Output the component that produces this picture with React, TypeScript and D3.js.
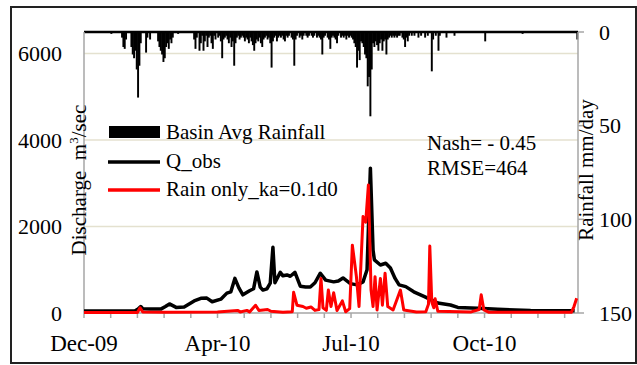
import React from 'react';
import * as d3 from 'd3';

// day offsets from the first date
const startDate = new Date(Date.UTC(2009, 11, 25));
const dayCount = 370;
const xTickDays = d3.range(0, 361, 20);
const xLabelDays = [0, 100, 200, 300];
const qTicks = [0, 2000, 4000, 6000];
const rainTicks = [0, 50, 100, 150];

// Basin average rainfall, mm/day: [day, mm]
const rainfall: [number, number][] = [
  [20, 1], [28, 3], [29, 8], [30, 9], [31, 4], [35, 8], [36, 12], [37, 14], [38, 10], [39, 20],
  [40, 35], [41, 18], [42, 6], [46, 11], [47, 3], [49, 4], [55, 5], [56, 8], [57, 10], [58, 12],
  [59, 16], [60, 14], [61, 8], [62, 6], [63, 9], [64, 4], [65, 6], [66, 3], [70, 1],
  [82, 4], [83, 9], [84, 3], [86, 10], [87, 6], [88, 2], [89, 10], [90, 5], [91, 2], [92, 8],
  [93, 3], [94, 2], [95, 6], [96, 9], [97, 2], [98, 4], [100, 3], [101, 2], [102, 5], [103, 14],
  [104, 4], [105, 3], [106, 2], [107, 4], [108, 6], [109, 3], [110, 8], [111, 5], [112, 18], [113, 6],
  [114, 3], [115, 2], [116, 4], [117, 3], [118, 2], [119, 3], [120, 5], [121, 3], [122, 4], [123, 6],
  [124, 3], [125, 5], [126, 7], [127, 10], [128, 6], [129, 4], [130, 5], [131, 3], [132, 6], [133, 8],
  [134, 4], [135, 3], [136, 2], [137, 4], [138, 3], [139, 6], [140, 19], [141, 5], [142, 3], [143, 2],
  [144, 5], [145, 3], [146, 2], [147, 3], [148, 2], [149, 4], [150, 5], [151, 2], [152, 3], [153, 2],
  [155, 3], [156, 4], [157, 18], [158, 4], [159, 2], [161, 3], [162, 2], [163, 4], [164, 2], [166, 2],
  [167, 3], [168, 2], [170, 2], [171, 3], [172, 2], [174, 3], [175, 2], [176, 3], [177, 4], [178, 12],
  [179, 3], [180, 2], [182, 3], [183, 4], [184, 9], [185, 3], [186, 2], [187, 3], [188, 4], [189, 6],
  [190, 2], [192, 3], [193, 2], [194, 3], [195, 2], [196, 4], [197, 2], [198, 3], [199, 2], [200, 3],
  [201, 4], [202, 6], [203, 8], [204, 19], [205, 10], [206, 15], [207, 5], [208, 6], [209, 8], [210, 12],
  [211, 14], [212, 29], [213, 24], [214, 45], [215, 20], [216, 6], [217, 8], [218, 5], [219, 7], [220, 10],
  [221, 6], [222, 4], [223, 10], [224, 5], [225, 4], [226, 12], [227, 4], [228, 3], [229, 2], [230, 3],
  [231, 2], [232, 3], [233, 2], [234, 3], [235, 2], [236, 2], [238, 3], [239, 4], [240, 8], [241, 3],
  [242, 5], [243, 2], [245, 2], [247, 2], [250, 3], [252, 2], [255, 3], [257, 2], [260, 21], [261, 4],
  [263, 2], [265, 10], [266, 2], [271, 3], [277, 2], [300, 5], [328, 1], [369, 4],
];

// Observed discharge, m3/sec: [day, Q]
const qObs: [number, number][] = [
  [0, 45], [12, 45], [38, 45], [40.5, 90], [42.5, 150], [44, 100], [49.5, 90], [57.5, 90],
  [61, 150], [64, 210], [69, 130], [75, 140], [82.5, 280], [87.5, 340], [92, 345], [96, 260],
  [102.5, 320], [107, 460], [110, 490], [113, 800], [116, 580], [119, 420], [124, 515], [127, 560],
  [129.5, 950], [132, 600], [134, 530], [137, 560], [139.5, 690], [141.5, 1520], [143, 700],
  [147, 940], [149, 860], [152, 880], [154.5, 850], [158, 940], [162, 620], [166, 600], [169.5, 600],
  [173, 700], [177, 920], [181, 760], [187, 720], [190.5, 740], [194, 810], [199.5, 680], [204.5, 650],
  [209, 720], [212, 1000], [214.5, 3350], [216.5, 1450], [217.5, 1230], [222, 1110], [226, 1150],
  [229.5, 1040], [233, 800], [236, 650], [241, 610], [247, 490], [255, 380], [265, 230], [274.5, 185],
  [280, 130], [295, 110], [310, 85], [334.5, 55], [367.5, 50],
];

// Simulated discharge, rain only ka=0.1d0: [day, Q]
const qRainOnly: [number, number][] = [
  [0, 10], [40, 10], [42, 120], [44, 25], [60, 20], [100, 25], [115, 60], [117, 25], [122, 60],
  [124, 25], [128.5, 180], [131, 60], [137.5, 80], [140, 40], [149, 15], [156, 30], [157, 480],
  [159.5, 180], [164, 150], [166.5, 110], [170, 140], [173, 60], [176, 80], [177.5, 800], [179, 120],
  [181.5, 60], [183, 530], [185, 150], [187, 470], [189.5, 60], [193.5, 280], [196, 30], [199, 100],
  [201, 1570], [204, 850], [206, 150], [209, 2230], [211, 2100], [213, 2960], [215, 530], [216.5, 150],
  [218, 840], [219.5, 70], [222, 800], [223.5, 180], [225.5, 920], [227.5, 150], [231.5, 70],
  [237, 530], [239.5, 70], [249, 25], [256, 30], [258, 200], [259, 1550], [260.5, 250], [262, 120],
  [263, 330], [265, 40], [290, 25], [296, 80], [297.5, 420], [299.5, 70], [303, 20], [365, 15],
  [367, 150], [369, 340],
];

const W = 637;
const H = 365;
const left = 84;
const right = 578;
const top = 32;
const bottom = 313;
const font = '"Liberation Serif", "Times New Roman", serif';

const day = (d: number) => new Date(startDate.getTime() + d * 86400000);

export default function App() {
  const x = d3.scaleUtc().domain([startDate, day(dayCount)]).range([left, right]);
  const yQ = d3.scaleLinear().domain([0, 6500]).range([bottom, top]);
  const yR = d3.scaleLinear().domain([0, 150]).range([top, bottom]);
  const fmt = d3.utcFormat('%b-%y');

  const line = d3
    .line<[number, number]>()
    .x((d) => x(day(d[0])))
    .y((d) => yQ(d[1]));

  const barW = x(day(1)) - x(day(0));

  return (
    <svg
      width={W}
      height={H}
      style={{position: 'absolute', left: 0, top: 0, background: '#fff'}}
      fontFamily={font}
    >
      <rect x={11} y={7} width={625} height={356} fill="#fff" stroke="#222" strokeWidth={2} />

      {/* gridlines */}
      {qTicks.slice(1).map((t) => (
        <line key={t} x1={left} x2={right} y1={yQ(t)} y2={yQ(t)} stroke="#e4e1cf" strokeWidth={1.5} />
      ))}

      {/* rainfall bars hanging from the top */}
      {rainfall.map(([d, mm]) => (
        <rect
          key={d}
          x={x(day(d)) - 0.3}
          y={top}
          width={barW + 0.6}
          height={yR(mm) - top}
          fill="#000"
        />
      ))}
      <line x1={left} x2={right} y1={top} y2={top} stroke="#000" strokeWidth={2.5} />

      {/* axes */}
      <line x1={left} x2={left} y1={top} y2={bottom} stroke="#a6a6a6" strokeWidth={1.5} />
      <line x1={right} x2={right} y1={top} y2={bottom} stroke="#a6a6a6" strokeWidth={1.5} />
      <line x1={left} x2={right} y1={bottom} y2={bottom} stroke="#a6a6a6" strokeWidth={1.5} />
      {xTickDays.map((d) => (
        <line key={d} x1={x(day(d))} x2={x(day(d))} y1={bottom} y2={bottom + 5} stroke="#a6a6a6" strokeWidth={1.5} />
      ))}
      {rainTicks.map((t) => (
        <line key={t} x1={right} x2={right + 6} y1={yR(t)} y2={yR(t)} stroke="#a6a6a6" strokeWidth={1.5} />
      ))}

      {/* lines */}
      <path d={line(qObs) ?? ''} fill="none" stroke="#000" strokeWidth={3.5} strokeLinejoin="round" />
      <path d={line(qRainOnly) ?? ''} fill="none" stroke="#ff0000" strokeWidth={3} strokeLinejoin="round" />

      {/* tick labels */}
      {qTicks.map((t) => (
        <text key={t} x={62} y={yQ(t)} dy="0.35em" textAnchor="end" fontSize={22}>
          {t}
        </text>
      ))}
      {rainTicks.map((t) => (
        <text key={t} x={599} y={yR(t)} dy="0.35em" textAnchor="start" fontSize={22}>
          {t}
        </text>
      ))}
      {xLabelDays.map((d) => (
        <text key={d} x={x(day(d))} y={351} textAnchor="middle" fontSize={23}>
          {fmt(day(d))}
        </text>
      ))}

      {/* axis titles */}
      <text transform="translate(86,180) rotate(-90)" textAnchor="middle" fontSize={21} style={{whiteSpace: 'pre'}}>
        Discharge  m<tspan dy={-8} fontSize={13}>3</tspan>
        <tspan dy={8}>/sec</tspan>
      </text>
      <text transform="translate(593,170) rotate(-90)" textAnchor="middle" fontSize={21}>
        Rainfall mm/day
      </text>

      {/* legend */}
      <rect x={109} y={126} width={51} height={12} fill="#000" />
      <line x1={108} x2={160} y1={162} y2={162} stroke="#000" strokeWidth={3.5} />
      <line x1={108} x2={160} y1={190} y2={190} stroke="#ff0000" strokeWidth={3.5} />
      <text x={166} y={139} fontSize={21}>Basin Avg Rainfall</text>
      <text x={166} y={168} fontSize={21}>Q_obs</text>
      <text x={166} y={196} fontSize={21}>Rain only_ka=0.1d0</text>

      <text x={427} y={150} fontSize={21}>Nash= - 0.45</text>
      <text x={427} y={175} fontSize={21}>RMSE=464</text>
    </svg>
  );
}
